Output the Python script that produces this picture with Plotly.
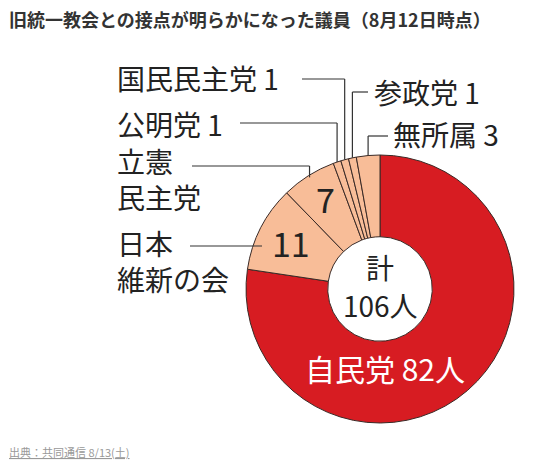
import math
import plotly.graph_objects as go

# データ（8月12日時点）
parties = ["自民党", "日本維新の会", "立憲民主党", "公明党", "国民民主党", "参政党", "無所属"]
members = [82, 11, 7, 1, 1, 1, 3]
colors = ["#d71c22", "#f8bd98", "#f8bd98", "#f8bd98", "#f8bd98", "#f8bd98", "#f8bd98"]

W, H = 547, 469
CX, CY, R = 380, 289, 134  # centre et rayon du camembert (px)
FONT = "Noto Sans CJK JP"


def px(x, y):
    return x / W, 1 - y / H


def edge(i, r=R):
    # point sur le bord au milieu de la part i (sens horaire depuis le haut)
    total = sum(members)
    start = sum(members[:i])
    a = (start + members[i] / 2) / total * 2 * math.pi
    return CX + r * math.sin(a), CY - r * math.cos(a)


fig = go.Figure(go.Pie(
    labels=parties, values=members, sort=False, direction="clockwise", rotation=0,
    hole=0.39, textinfo="none", hoverinfo="label+value",
    marker=dict(colors=colors, line=dict(color="#3a2a26", width=1)),
    domain=dict(x=[(CX - R) / W, (CX + R) / W], y=[1 - (CY + R) / H, 1 - (CY - R) / H]),
    showlegend=False,
))

ann = []
shapes = []


def label(text, x, y, size=28, color="#222", anchor="left", pad=1):
    xx, yy = px(x, y)
    ann.append(dict(x=xx, y=yy, xref="paper", yref="paper", text=text, showarrow=False,
                    xanchor=anchor, yanchor="middle", align=anchor, borderpad=pad,
                    font=dict(family=FONT, size=size, color=color)))


def seg(x0, y0, x1, y1):
    a, b = px(x0, y0)
    c, d = px(x1, y1)
    shapes.append(dict(type="line", xref="paper", yref="paper", x0=a, y0=b, x1=c, y1=d,
                       line=dict(color="#333", width=1.2)))


# étiquettes extérieures avec traits de rappel
idx = {p: i for i, p in enumerate(parties)}

label(f"国民民主党 {members[idx['国民民主党']]}", 115, 78)
ex, ey = edge(idx["国民民主党"])
seg(302, 79, ex, 79)
seg(ex, 79, ex, ey)

label(f"公明党 {members[idx['公明党']]}", 115, 124)
ex, ey = edge(idx["公明党"])
seg(240, 123, ex, 123)
seg(ex, 123, ex, ey)

label("立憲<br>民主党", 115, 179)
ex, ey = edge(idx["立憲民主党"], R - 2)
seg(192, 166, ex, 166)
seg(ex, 166, ex, ey)

label("日本<br>維新の会", 115, 261)
seg(190, 246, 262, 246)

label(f"参政党 {members[idx['参政党']]}", 372, 92)
ex, ey = edge(idx["参政党"])
seg(ex, 92, 368, 92)
seg(ex, 92, ex, ey)

label(f"無所属 {members[idx['無所属']]}", 391, 134)
ex, ey = edge(idx["無所属"])
seg(ex, 136, 388, 136)
seg(ex, 136, ex, ey)

# chiffres dans les parts
label(str(members[idx["日本維新の会"]]), 291, 243, size=34, anchor="center")
label(str(members[idx["立憲民主党"]]), 325, 199, size=34, anchor="center")
label(f"自民党 {members[0]}人", 385, 368, size=30, color="white", anchor="center")

# total au centre
label("計", CX, 267, size=28, anchor="center", pad=0)
label(f"{sum(members)}人", CX, 305, size=28, anchor="center", pad=0)

# titre et source
label("<b>旧統一教会との接点が明らかになった議員（8月12日時点）</b>", 7, 19, size=18, color="#333")
label('<span style="text-decoration:underline">出典：共同通信 8/13(土)</span>', 7, 452, size=11,
      color="#999")

fig.update_layout(
    width=W, height=H, margin=dict(l=0, r=0, t=0, b=0),
    paper_bgcolor="white", plot_bgcolor="white",
    annotations=ann, shapes=shapes,
)

fig.write_html("out.html", config={"displayModeBar": False},
               post_script="document.body.style.margin='0';")
